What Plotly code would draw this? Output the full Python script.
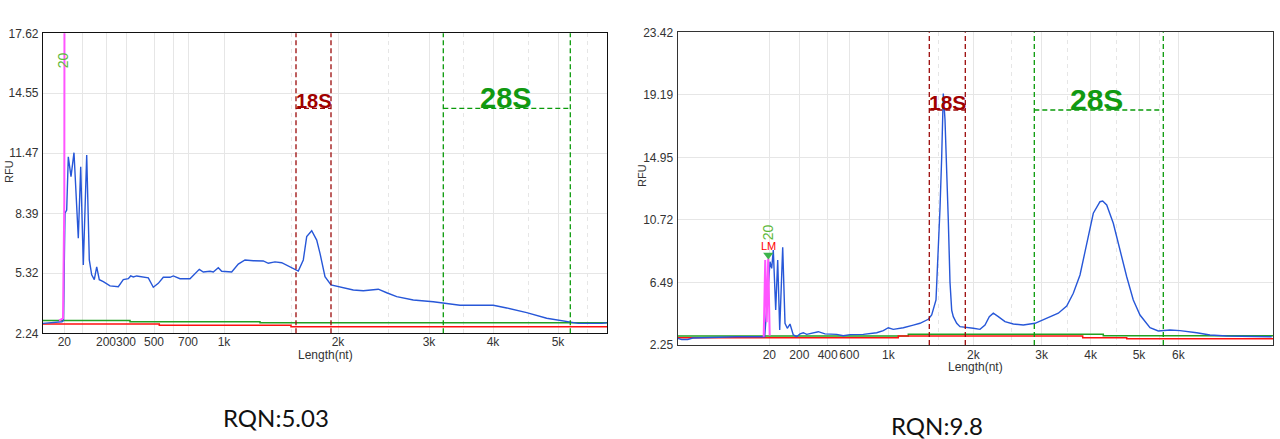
import plotly.graph_objects as go

# ---------------- data: left electropherogram (RQN 5.03) ----------------
# migration position (s) and fluorescence (RFU)
left_time = [0.0, 1.9, 2.05, 2.2, 2.37, 2.53, 2.8, 3.1, 3.53, 3.77, 4.03, 4.37, 4.63, 4.87,
             5.13, 5.37, 5.63, 6.03, 6.7, 7.53, 8.03, 8.53, 8.77, 9.03, 9.37, 10.03, 10.53,
             11.03, 11.53, 12.03, 12.7, 13.03, 13.7, 14.7, 15.2, 15.63, 16.03, 16.7, 17.03,
             17.53, 17.87, 18.87, 19.53, 20.2, 21.03, 22.03, 22.53, 23.2, 23.87, 24.7, 25.53,
             26.03, 26.37, 26.87, 27.37, 27.7, 28.2, 28.8, 29.7, 31.03, 32.03, 33.53, 34.37,
             35.37, 37.03, 39.03, 41.7, 45.03, 46.37, 48.37, 50.37, 52.37, 53.53, 55.87, 56.37]
left_rfu = [2.75, 2.83, 2.9, 8.4, 8.56, 11.29, 10.27, 11.5, 7.11, 10.78, 5.74, 11.38, 6.0, 5.24,
            4.99, 5.65, 4.99, 4.89, 4.67, 4.63, 4.99, 5.04, 5.18, 5.13, 5.18, 5.13, 5.08,
            4.6, 4.8, 5.11, 5.11, 5.18, 5.04, 5.04, 5.28, 5.52, 5.38, 5.42, 5.38,
            5.6, 5.42, 5.38, 5.79, 6.0, 5.96, 5.95, 5.83, 5.9, 5.86, 5.65, 5.43,
            6.0, 7.2, 7.5, 7.02, 6.34, 5.14, 4.72, 4.63, 4.46, 4.42, 4.5, 4.32,
            4.12, 3.95, 3.86, 3.68, 3.68, 3.54, 3.3, 3.01, 2.83, 2.75, 2.75, 2.78]
left_ladder_time = [1.6, 2.0, 2.13, 2.15]
left_ladder_rfu = [2.89, 3.0, 9.0, 20.0]
left_green_time = [0.0, 8.7, 21.7, 56.4]
left_green_rfu = [2.90, 2.83, 2.78, 2.78]
left_red_time = [0.0, 11.63, 24.8, 56.4]
left_red_rfu = [2.72, 2.65, 2.58, 2.58]

left_tick_pos = [2.13, 3.97, 6.3, 8.3, 11.1, 13.0, 14.5, 18.1, 29.5, 38.6, 45.0, 51.5]
left_tick_text = ["20", "", "200", "300", "500", "", "700", "1k", "2k", "3k", "4k", "5k"]
left_minor_pos = [24.8, 34.5, 42.0, 48.5, 54.4]
left_y_ticks = [2.24, 5.32, 8.39, 11.47, 14.55, 17.62]
left_x_range = [0, 56.4]
left_18s = [25.3, 28.8]
left_28s = [40.03, 52.73]
left_region_level = 13.77
left_marker_time = 2.03
left_marker_level = 16.25

# ---------------- data: right electropherogram (RQN 9.8) ----------------
right_time = [0.0, 0.4, 1.0, 1.5, 5.9, 8.7, 9.23, 9.4, 9.56, 9.8, 10.0, 10.2, 10.5, 10.73, 10.96,
              11.23, 11.56, 11.9, 12.23, 12.56, 12.9, 13.4, 14.06, 14.73, 15.9, 16.56, 17.23,
              18.56, 19.9, 20.56, 21.06, 21.56, 22.56, 23.56, 24.23, 25.06, 25.4, 25.83, 26.06,
              26.23, 26.4, 26.56, 26.73, 26.9, 27.06, 27.23, 27.4, 27.56, 27.9, 28.23, 28.9,
              29.56, 30.23, 30.73, 31.16, 31.56, 32.06, 32.73, 33.56, 34.56, 35.73, 36.9, 38.06,
              38.9, 39.56, 40.23, 40.9, 41.56, 42.23, 42.5, 42.9, 43.56, 44.23, 44.9, 45.56,
              46.23, 47.23, 48.06, 49.23, 50.23, 51.9, 53.23, 54.9, 56.9, 59.4]
right_rfu = [2.70, 2.62, 2.62, 2.72, 2.81, 2.81, 7.89, 7.44, 8.68, 4.62, 8.0, 3.27, 8.87, 3.72, 3.38,
             3.67, 2.93, 2.81, 3.0, 3.08, 2.97, 3.04, 3.15, 3.0, 2.97, 2.88, 2.95,
             2.97, 3.08, 3.22, 3.42, 3.31, 3.42, 3.6, 3.72, 3.99, 4.28, 5.3, 8.5,
             11.5, 15.0, 19.28, 17.5, 14.5, 10.7, 6.5, 4.6, 4.17, 3.72, 3.49, 3.45,
             3.38, 3.31, 3.6, 4.17, 4.4, 4.17, 3.83, 3.67, 3.6, 3.72, 4.06, 4.4,
             4.89, 5.75, 6.99, 9.14, 11.17, 11.95, 12.0, 11.73, 10.49, 8.68, 6.87, 5.3,
             4.28, 3.42, 3.2, 3.27, 3.22, 3.08, 2.93, 2.86, 2.86, 2.81]
right_ladder_time = [8.6, 8.75, 8.9, 9.05, 9.2]
right_ladder_rfu = [2.81, 8.0, 3.8, 8.1, 2.9]
right_green_time = [0.0, 23.06, 42.56, 59.56]
right_green_rfu = [2.86, 2.97, 2.88, 2.88]
right_red_time = [0.0, 22.06, 40.5, 44.9, 59.56]
right_red_rfu = [2.74, 2.86, 2.74, 2.68, 2.68]

right_tick_pos = [9.16, 12.16, 15.0, 17.16, 21.06, 29.56, 36.4, 41.3, 46.13, 50.06]
right_tick_text = ["20", "200", "400", "600", "1k", "2k", "3k", "4k", "5k", "6k"]
right_minor_pos = [26.06, 33.33, 39.0, 43.83, 48.16]
right_y_ticks = [2.25, 6.49, 10.72, 14.95, 19.19, 23.42]
right_x_range = [0, 59.56]
right_18s = [25.16, 28.76]
right_28s = [35.66, 48.56]
right_region_level = 18.16
right_marker_time = 9.06
right_marker_level = 9.9
right_lm_level = 8.98
right_arrow_level = 8.35

rqn_labels = ["RQN:5.03", "RQN:9.8"]

# ---------------- styling ----------------
BLUE = "#2757D8"
GREEN = "#22A022"
RED = "#FF1010"
MAGENTA = "#FF55FF"
DARKRED = "#9B0A0A"
DGREEN = "#0A9A0A"
FONT = "Liberation Sans, Arial, sans-serif"

fig = go.Figure()

def add_panel(xa, ya, t, v, lt, lv, gt, gv, rt, rv):
    fig.add_trace(go.Scatter(x=gt, y=gv, mode="lines", line=dict(color=GREEN, width=1.5, shape="hv"),
                             xaxis=xa, yaxis=ya, hoverinfo="skip"))
    fig.add_trace(go.Scatter(x=rt, y=rv, mode="lines", line=dict(color=RED, width=1.5, shape="hv"),
                             xaxis=xa, yaxis=ya, hoverinfo="skip"))
    fig.add_trace(go.Scatter(x=t, y=v, mode="lines", line=dict(color=BLUE, width=1.4),
                             xaxis=xa, yaxis=ya))
    fig.add_trace(go.Scatter(x=lt, y=lv, mode="lines", line=dict(color=MAGENTA, width=2),
                             xaxis=xa, yaxis=ya))

add_panel("x", "y", left_time, left_rfu, left_ladder_time, left_ladder_rfu,
          left_green_time, left_green_rfu, left_red_time, left_red_rfu)
add_panel("x2", "y2", right_time, right_rfu, right_ladder_time, right_ladder_rfu,
          right_green_time, right_green_rfu, right_red_time, right_red_rfu)

# lower marker arrow (right panel)
fig.add_trace(go.Scatter(x=[right_marker_time], y=[right_arrow_level], mode="markers",
                         marker=dict(symbol="triangle-down", size=9, color="#3CB44B"),
                         xaxis="x2", yaxis="y2"))

def axis_common(**kw):
    d = dict(showline=True, linecolor="#111", linewidth=1.2, mirror=True, ticks="",
             showgrid=True, gridcolor="#E6E6E6", gridwidth=1, zeroline=False, tickangle=0,
             automargin=False,
             tickfont=dict(family=FONT, size=12, color="#333"), fixedrange=True)
    d.update(kw)
    return d

fig.update_layout(
    width=1280, height=439, margin=dict(l=0, r=0, t=0, b=0, pad=0),
    paper_bgcolor="white", plot_bgcolor="white", showlegend=False,
    xaxis=axis_common(domain=[43/1280, 607/1280], range=left_x_range, tickmode="array",
                      tickvals=left_tick_pos, ticktext=left_tick_text, ticklabelstandoff=-3,
                      minor=dict(tickvals=left_minor_pos, showgrid=True, gridcolor="#E6E6E6",
                                 griddash="4px,4px", ticks="")),
    yaxis=axis_common(domain=[(439-333.3)/439, (439-33.3)/439], range=[left_y_ticks[0], left_y_ticks[-1]],
                      tickmode="array", tickvals=left_y_ticks,
                      ticktext=[f"{v:.2f}" for v in left_y_ticks], ticklabelstandoff=1),
    xaxis2=axis_common(domain=[677.7/1280, 1273.3/1280], range=right_x_range, tickmode="array",
                       tickvals=right_tick_pos, ticktext=right_tick_text, anchor="y2",
                       linecolor="#333", ticklabelstandoff=-2,
                       minor=dict(tickvals=right_minor_pos, showgrid=True, gridcolor="#E6E6E6",
                                  griddash="4px,4px", ticks="")),
    yaxis2=axis_common(domain=[(439-345)/439, (439-32.3)/439], range=[right_y_ticks[0], right_y_ticks[-1]],
                       tickmode="array", tickvals=right_y_ticks, anchor="x2", linecolor="#333",
                       ticktext=[f"{v:.2f}" for v in right_y_ticks], ticklabelstandoff=1),
)

shapes = []
def region(xref, yref, bounds, level, color):
    for xv in bounds:
        shapes.append(dict(type="line", xref=xref, yref=yref + " domain", x0=xv, x1=xv, y0=0, y1=1,
                           line=dict(color=color, width=1.3, dash="5px,3px")))
    shapes.append(dict(type="line", xref=xref, yref=yref, x0=bounds[0], x1=bounds[1], y0=level, y1=level,
                       line=dict(color=color, width=1.3, dash="5px,3px")))

region("x", "y", left_18s, left_region_level, DARKRED)
region("x", "y", left_28s, left_region_level, DGREEN)
region("x2", "y2", right_18s, right_region_level, DARKRED)
region("x2", "y2", right_28s, right_region_level, DGREEN)
fig.update_layout(shapes=shapes)

def note(x, y, xref, yref, text, size, color, family=FONT, angle=0):
    return dict(x=x, y=y, xref=xref, yref=yref, text=text, showarrow=False, textangle=angle,
                xanchor="center", yanchor="middle",
                font=dict(family=family, size=size, color=color))

ann = []
# region labels
ann.append(note(sum(left_18s)/2, 14.14, "x", "y", "<b>18S</b>", 20, "#A00000"))
ann.append(note(sum(left_28s)/2 - 0.05, 14.30, "x", "y", "<b>28S</b>", 29, "#119911"))
ann.append(note(sum(right_18s)/2, 18.65, "x2", "y2", "<b>18S</b>", 21, "#A00000"))
ann.append(note(sum(right_28s)/2 - 0.2, 18.87, "x2", "y2", "<b>28S</b>", 30, "#119911"))
# ladder marker labels
ann.append(note(left_marker_time, left_marker_level, "x", "y", "20", 14, "#5DB83A", angle=-90))
ann.append(note(right_marker_time, right_marker_level, "x2", "y2", "20", 14, "#5DB83A", angle=-90))
ann.append(note(right_marker_time + 0.05, right_lm_level, "x2", "y2", "LM", 11, "#FF0000"))
# axis titles
ann.append(note(325/1280, (439-355)/439, "paper", "paper", "Length(nt)", 12, "#333"))
ann.append(note(975/1280, (439-367)/439, "paper", "paper", "Length(nt)", 12, "#333"))
ann.append(note(9/1280, (439-172)/439, "paper", "paper", "RFU", 11, "#333", angle=-90))
ann.append(note(642/1280, (439-176)/439, "paper", "paper", "RFU", 11, "#333", angle=-90))
# RQN labels
ann.append(note(275.5/1280, (439-417)/439, "paper", "paper", rqn_labels[0], 24, "#111",
                family="Lato, Open Sans, sans-serif"))
ann.append(note(936.7/1280, (439-425)/439, "paper", "paper", rqn_labels[1], 24, "#111",
                family="Lato, Open Sans, sans-serif"))
fig.update_layout(annotations=ann)

fig.write_html("out.html", config={"displayModeBar": False},
               post_script="document.body.style.margin='0';document.body.style.padding='0';")
